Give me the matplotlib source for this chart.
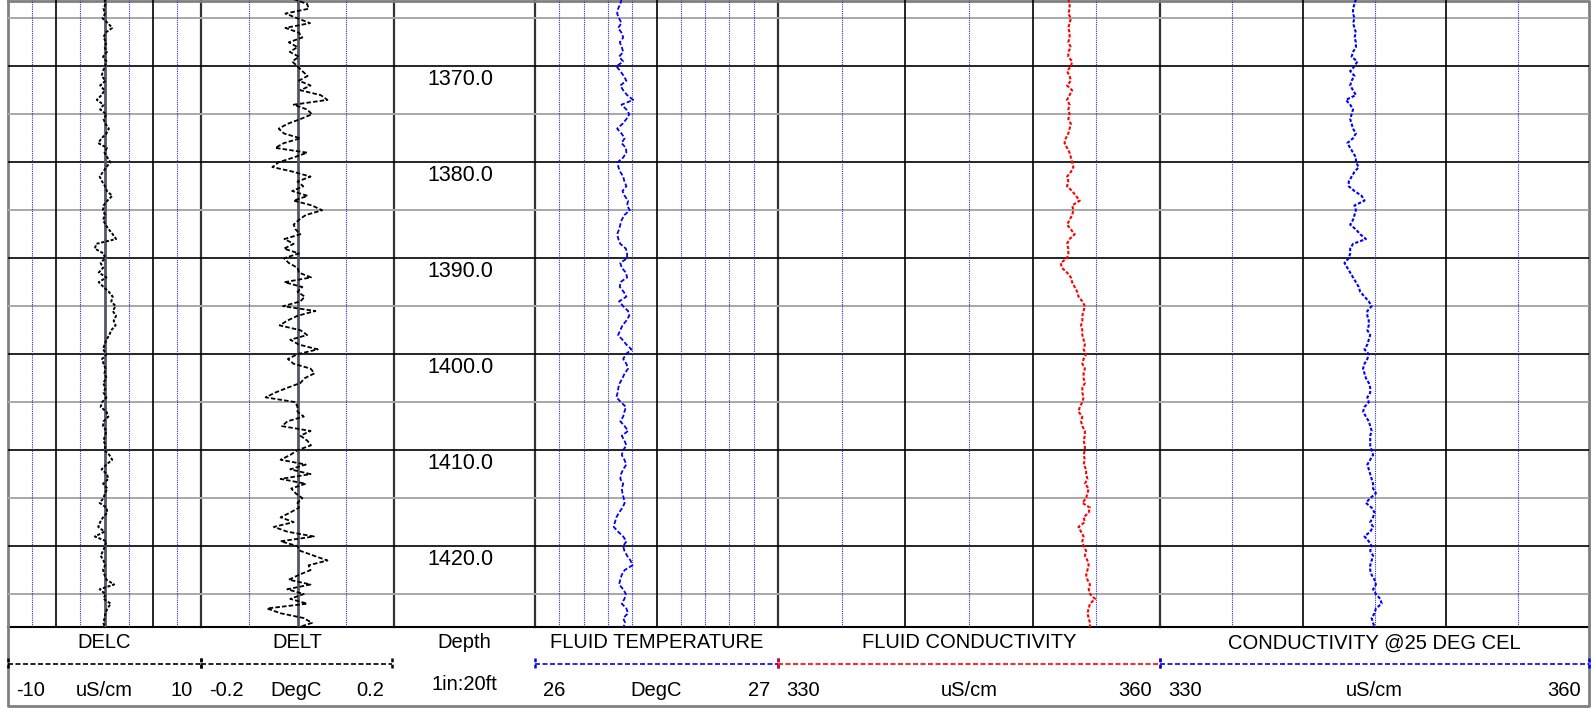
import numpy
import matplotlib
matplotlib.use('Agg')
import matplotlib.pyplot as plt

plt.rcParams['font.family'] = ['Liberation Sans', 'DejaVu Sans']
plt.rcParams['font.size'] = 14.5

## figure geometry (pixels)
W, H = 1591, 708
YB = 626.7          # bottom of the log area, px from top
top_depth = 1363.09
bot_depth = 1428.4

## log data, sampled every 0.5 ft from 1363.0 ft
depth = numpy.arange(1363.0, 1428.51, 0.5)

delc = [0, 0.1, -0.1, 0.05, -0.2, 0.35, 0.8, 0.1, -0.1, 0.2,
        0, 0.25, -0.15, 0.2, 0.05, -0.15, -0.3, 0.1, -0.45, 0,
        -0.3, -0.8, -0.1, -0.45, 0.2, -0.1, 0.1, 0.45, 0.2, -0.3,
        -0.65, 0.25, 0, 0.3, 0.6, 0.2, -0.15, -0.5, -0.25, 0.05,
        0.25, 0.8, 0.3, -0.1, -0.15, 0.05, -0.15, 0.1, 0.45, 0.85,
        1.2, -0.85, -1.0, -0.1, 0.05, -0.4, -0.15, -0.6, 0.2, -0.6,
        -0.1, 0.45, 0.85, 0.7, 1.15, 0.85, 1.2, 0.95, 1.15, 0.7,
        0.5, 0.2, 0, -0.15, 0.2, -0.25, -0.1, 0.1, 0, 0.2,
        -0.15, 0.1, -0.1, 0.2, -0.25, -0.4, 0.2, 0.4, -0.1, -0.15,
        0.2, 0.05, -0.1, 0.1, 0, 0.5, 0.8, 0.2, -0.3, 0.25,
        0.4, -0.15, 0.3, 0.05, -0.1, -0.5, 0.2, 0.3, -0.15, -0.45,
        -0.65, 0, -1.0, 0.2, 0.05, -0.15, -0.4, -0.1, 0.05, -0.15,
        0, 0.2, 1.0, -0.5, 0.1, -0.1, 0.65, 0.3, 0.1, 0,
        -0.1, 0]

delt = [-0.008, 0.020, 0.023, -0.025, 0.0, 0.026, -0.025, 0.003, 0.010, -0.018,
        0.0, -0.016, 0.003, -0.011, 0.0, 0.010, 0.021, 0.003, 0.027, 0.006,
        0.048, 0.062, -0.008, 0.020, 0.030, 0.006, -0.021, -0.039, -0.028, 0.006,
        -0.028, -0.046, 0.020, -0.008, -0.039, -0.052, -0.008, 0.027, 0.0, 0.012,
        -0.011, 0.021, -0.008, 0.030, 0.051, 0.017, 0.003, -0.008, -0.004, 0.006,
        -0.027, -0.008, -0.028, 0.003, -0.028, -0.018, 0.0, 0.003, 0.028, -0.027,
        0.010, 0.0, 0.015, 0.006, -0.030, 0.037, 0.0, -0.021, -0.037, 0.006,
        0.020, -0.015, 0.003, 0.042, 0.0, -0.020, -0.008, 0.027, 0.035, 0.015,
        0.006, -0.021, -0.046, -0.066, -0.004, 0.0, 0.0, 0.013, -0.021, -0.032,
        0.027, 0.006, 0.020, 0.028, 0.0, -0.015, -0.035, 0.017, -0.015, 0.027,
        -0.035, 0.017, -0.013, -0.004, 0.010, 0.0, 0.003, -0.015, -0.035, -0.008,
        -0.049, -0.021, 0.034, -0.035, 0.0, 0.006, 0.034, 0.062, 0.023, 0.027,
        0.003, -0.018, 0.027, -0.021, 0.013, -0.015, 0.020, -0.063, -0.035, 0.013,
        0.030, 0.0]

temp = [26.356, 26.351, 26.342, 26.338, 26.346, 26.356, 26.342, 26.356, 26.363, 26.349,
        26.357, 26.363, 26.346, 26.363, 26.335, 26.351, 26.365, 26.376, 26.351, 26.363,
        26.379, 26.404, 26.356, 26.376, 26.388, 26.376, 26.360, 26.338, 26.356, 26.369,
        26.356, 26.374, 26.376, 26.363, 26.340, 26.343, 26.351, 26.363, 26.368, 26.376,
        26.360, 26.369, 26.383, 26.379, 26.390, 26.368, 26.357, 26.351, 26.346, 26.338,
        26.343, 26.351, 26.374, 26.379, 26.379, 26.351, 26.357, 26.374, 26.379, 26.351,
        26.349, 26.365, 26.376, 26.346, 26.363, 26.383, 26.388, 26.376, 26.360, 26.351,
        26.342, 26.360, 26.376, 26.397, 26.374, 26.363, 26.376, 26.383, 26.369, 26.360,
        26.349, 26.343, 26.340, 26.335, 26.354, 26.374, 26.368, 26.363, 26.351, 26.369,
        26.383, 26.357, 26.368, 26.376, 26.363, 26.357, 26.368, 26.376, 26.363, 26.354,
        26.351, 26.363, 26.357, 26.360, 26.365, 26.369, 26.360, 26.346, 26.335, 26.329,
        26.324, 26.342, 26.363, 26.376, 26.363, 26.368, 26.379, 26.393, 26.401, 26.369,
        26.357, 26.351, 26.346, 26.363, 26.374, 26.368, 26.357, 26.376, 26.383, 26.363,
        26.371, 26.363]

cond = [352.8, 352.9, 352.9, 352.8, 353.0, 352.9, 352.8, 352.9, 352.9, 352.8,
        353.0, 352.8, 352.8, 353.1, 353.0, 352.7, 352.9, 353.0, 352.7, 353.1,
        352.9, 352.7, 352.9, 352.8, 352.9, 352.8, 353.0, 352.9, 352.8, 352.6,
        352.5, 352.7, 352.9, 353.0, 353.1, 353.2, 353.0, 352.7, 352.8, 352.7,
        353.1, 353.4, 353.7, 353.1, 353.2, 353.1, 352.9, 352.7, 353.0, 353.3,
        352.9, 352.7, 352.8, 352.8, 352.7, 352.2, 352.3, 352.7, 353.0, 353.1,
        353.3, 353.5, 353.6, 353.9, 354.1, 354.0, 353.9, 353.9, 353.8, 353.9,
        353.9, 354.0, 354.1, 354.0, 354.2, 354.0, 353.9, 354.1, 354.0, 354.0,
        354.1, 353.9, 353.9, 354.0, 353.9, 353.7, 353.6, 353.9, 353.8, 353.9,
        354.1, 354.1, 354.0, 354.1, 354.1, 354.0, 354.1, 354.0, 354.2, 354.2,
        354.3, 354.1, 354.4, 354.3, 354.2, 353.9, 354.5, 354.4, 354.0, 354.1,
        353.6, 353.8, 354.0, 353.9, 354.0, 354.2, 354.1, 354.3, 354.4, 354.3,
        354.2, 354.3, 354.5, 354.4, 354.5, 354.9, 354.5, 354.4, 354.3, 354.4,
        354.5, 354.5]

cond25 = [343.7, 343.6, 343.5, 343.5, 343.6, 343.5, 343.6, 343.7, 343.6, 343.7,
          343.7, 343.5, 343.4, 343.8, 343.6, 343.3, 343.6, 343.4, 343.3, 343.5,
          343.7, 343.0, 343.3, 343.5, 343.4, 343.3, 343.4, 343.5, 343.7, 343.5,
          343.1, 343.3, 343.5, 343.7, 343.7, 343.9, 343.6, 343.4, 343.2, 343.2,
          343.6, 344.1, 344.3, 343.6, 343.7, 343.6, 343.5, 343.3, 343.7, 344.0,
          344.4, 343.5, 343.3, 343.3, 343.2, 342.9, 343.1, 343.3, 343.5, 343.7,
          343.9, 344.0, 344.3, 344.6, 344.8, 344.5, 344.5, 344.6, 344.6, 344.5,
          344.7, 344.6, 344.5, 344.3, 344.6, 344.5, 344.3, 344.2, 344.3, 344.4,
          344.6, 344.7, 344.7, 344.5, 344.6, 344.3, 344.2, 344.4, 344.6, 344.7,
          344.8, 344.7, 344.7, 344.7, 344.8, 344.9, 344.7, 344.5, 344.6, 344.7,
          344.8, 344.9, 344.9, 345.1, 344.7, 344.4, 344.8, 345.0, 344.9, 344.7,
          344.9, 344.7, 344.3, 344.6, 344.8, 344.7, 344.9, 344.8, 344.7, 344.7,
          344.8, 345.0, 345.1, 344.9, 345.1, 345.4, 345.5, 345.1, 345.0, 344.8,
          344.9, 345.0]

depth_labels = [1370, 1380, 1390, 1400, 1410, 1420]

#########################
fig = plt.figure(figsize=(W/100., H/100.), dpi=100)

# background axes in pixel units: borders and header
bg = fig.add_axes([0, 0, 1, 1])
bg.set_xlim(0, W)
bg.set_ylim(H, 0)
bg.axis('off')

BLUE = '#2a2ad0'
GRID_GRAY = '#a8a8a8'

def track(x0, x1, lo, hi):
  ax = fig.add_axes([x0/W, (H-YB)/H, (x1-x0)/W, YB/H])
  ax.set_xlim(lo, hi)
  ax.set_ylim(bot_depth, top_depth)
  ax.axis('off')
  for d in range(1365, 1430, 5):
    if d % 10 == 0:
      ax.axhline(d, color='black', lw=1.2, zorder=1)
    else:
      ax.axhline(d, color=GRID_GRAY, lw=1.4, zorder=1)
  return ax

def vgrid(ax, minor, major, center=None):
  for v in minor:
    ax.axvline(v, color=BLUE, lw=0.8, ls=(0, (1, 1)), zorder=1)
  for v in major:
    ax.axvline(v, color='black', lw=1.2, zorder=1)
  if center is not None:
    ax.axvline(center, color='#55556a', lw=2, zorder=1)

dash = (0, (2.5, 1.2))
short_dash = (0, (1.6, 0.9))

# DELC
ax1 = track(8, 201, -10, 10)
vgrid(ax1, [-7.5, -2.5, 2.5, 7.5], [-5, 5], 0)
ax1.plot(delc, depth, color='black', lw=1.4, ls=short_dash, zorder=3)

# DELT
ax2 = track(201, 394, -0.2, 0.2)
vgrid(ax2, [-0.1, 0.1], [], 0)
ax2.plot(delt, depth, color='black', lw=1.3, ls=dash, zorder=3)

# depth track
axd = track(394, 535, 0, 1)
for d in depth_labels:
  axd.text(0.47, d + 0.3, '%.1f' % d, ha='center', va='top', fontsize=15.5, zorder=4)

# fluid temperature
ax3 = track(535, 778, 26, 27)
vgrid(ax3, [26.1, 26.2, 26.3, 26.4, 26.6, 26.7, 26.8, 26.9], [26.5])
ax3.plot(temp, depth, color='#0000ff', lw=1.3, ls=dash, zorder=3)

# fluid conductivity
ax4 = track(778, 1160, 330, 360)
vgrid(ax4, [335, 345, 355], [340, 350])
ax4.plot(cond, depth, color='#ff0000', lw=1.5, ls=short_dash, zorder=3)

# conductivity @25 deg
ax5 = track(1160, 1589, 330, 360)
vgrid(ax5, [335, 345, 355], [340, 350])
ax5.plot(cond25, depth, color='#0000ff', lw=1.5, ls=short_dash, zorder=3)

# track boundaries and borders
for x in [201, 394, 535, 778, 1160]:
  bg.plot([x, x], [0, YB], color='#333333', lw=1.6)
bg.plot([8, 1589], [YB, YB], color='black', lw=1.5)
bg.plot([8, 1589, 1589, 8, 8], [0.5, 0.5, 706, 706, 0.5], color='#808080', lw=2)

#########################
# header
ty, sy, ny = 643, 664, 690
titles = [(104.5, 'DELC'), (297.5, 'DELT'), (464.5, 'Depth'),
          (656.5, 'FLUID TEMPERATURE'), (969, 'FLUID CONDUCTIVITY'),
          (1374.5, 'CONDUCTIVITY @25 DEG CEL')]
for x, t in titles:
  bg.text(x, ty, t, ha='center', va='center')

scales = [(8, 201, 'black', '-10', 'uS/cm', '10'),
          (201, 392, 'black', '-0.2', 'DegC', '0.2'),
          (535, 778, '#0000ff', '26', 'DegC', '27'),
          (778, 1160, '#ff0000', '330', 'uS/cm', '360'),
          (1160, 1589, '#0000ff', '330', 'uS/cm', '360')]
for x0, x1, c, lo, unit, hi in scales:
  bg.plot([x0, x1], [sy, sy], color=c, lw=1.2, ls=(0, (3, 1.5)))
  bg.plot([x0, x0], [sy-6, sy+6], color=c, lw=1.8, ls=(0, (1.5, 1)))
  bg.plot([x1, x1], [sy-6, sy+6], color=c, lw=1.8, ls=(0, (1.5, 1)))
  bg.text(x0+8, ny, lo, ha='left', va='center')
  bg.text((x0+x1)/2., ny, unit, ha='center', va='center')
  bg.text(x1-8, ny, hi, ha='right', va='center')

bg.text(464.5, 684, '1in:20ft', ha='center', va='center')

plt.savefig('out.png', dpi=100)
